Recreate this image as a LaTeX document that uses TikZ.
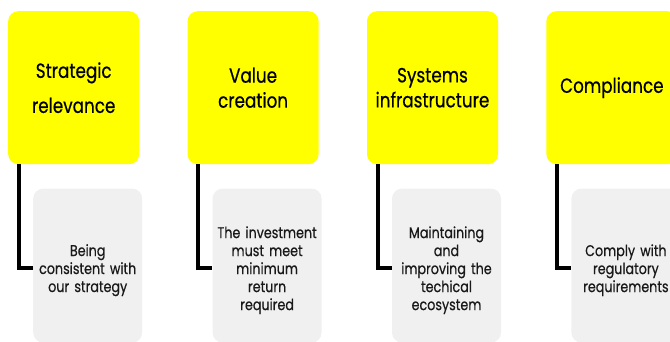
\documentclass[tikz,border=0pt]{standalone}
\usepackage{fontspec}
\setmainfont{Poppins}[FakeStretch=0.82,FakeBold=0.5]
\usepackage{xcolor}
\usepackage{tikz}
\usetikzlibrary{positioning}
\definecolor{topicyellow}{HTML}{FFFF00}
\definecolor{detailgray}{HTML}{F0F0F0}
\tikzstyle{topic} = [rectangle, rounded corners=10pt, minimum width=131pt, minimum height=153pt, text width=125pt, align=center, fill=topicyellow, inner sep=0pt, font=\fontsize{20.5}{25}\selectfont]
\tikzstyle{detail} = [rectangle, rounded corners=10pt, minimum width=109pt, minimum height=154pt, text width=105pt, text height=21pt, align=center, fill=detailgray, inner sep=0pt, anchor=north west, text=black!90, font=\fontsize{15.5}{18}\selectfont]
\tikzstyle{link} = [line width=4pt]

\begin{document}
\begin{tikzpicture}
        \useasboundingbox (0,0) rectangle (670pt,-342pt);
        \node (strategy) [topic, anchor=north west, font=\fontsize{20.5}{35}\selectfont] at (8pt,-11pt) {Strategic\\relevance};
        \node (value) [topic, right=48pt of strategy] {Value\\creation};
        \node (systems) [topic, right=48pt of value] {Systems\\infrastructure};
        \node (compliance) [topic, right=48pt of systems] {Compliance};
        \node (strategydet) [detail] at ([xshift=25pt,yshift=-24pt]strategy.south west) {Being\\consistent with\\our strategy};
        \draw [link] ([xshift=11pt]strategy.south west) |- ([yshift=-2pt]strategydet.west);
        \node (valuedet) [detail] at ([xshift=25pt,yshift=-24pt]value.south west) {The investment\\must meet\\minimum\\return\\required};
        \draw [link] ([xshift=11pt]value.south west) |- ([yshift=-2pt]valuedet.west);
        \node (systemsdet) [detail] at ([xshift=25pt,yshift=-24pt]systems.south west) {Maintaining\\and\\improving the\\techical\\ecosystem};
        \draw [link] ([xshift=11pt]systems.south west) |- ([yshift=-2pt]systemsdet.west);
        \node (compliancedet) [detail] at ([xshift=25pt,yshift=-24pt]compliance.south west) {Comply with\\regulatory\\requirements};
        \draw [link] ([xshift=11pt]compliance.south west) |- ([yshift=-2pt]compliancedet.west);
    \end{tikzpicture}
\end{document}
